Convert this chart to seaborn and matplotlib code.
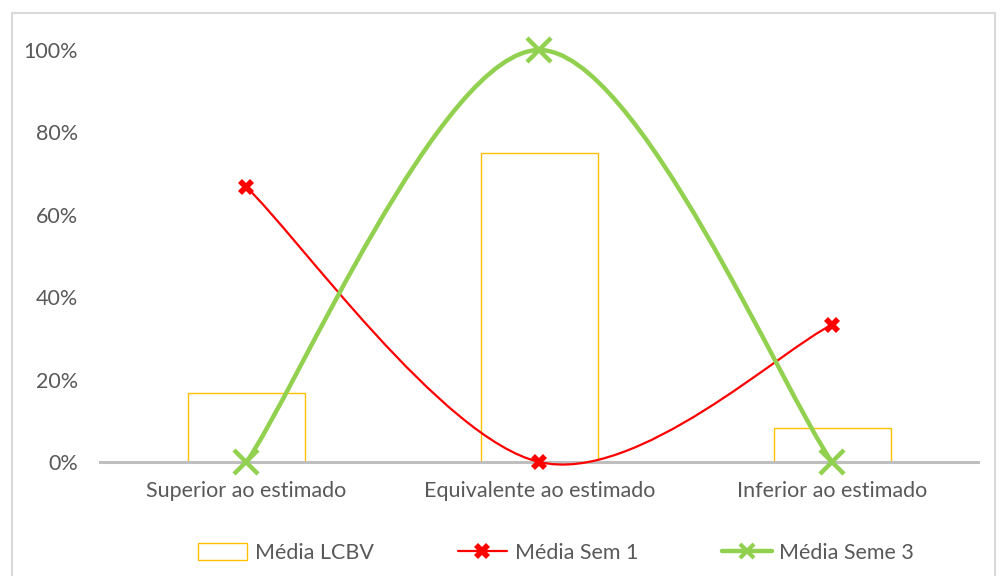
import matplotlib
matplotlib.use("Agg")
import matplotlib.pyplot as plt
import seaborn as sns
import pandas as pd
import numpy as np
from matplotlib.path import Path
from matplotlib.patches import PathPatch, Rectangle, Patch
from matplotlib.lines import Line2D
from matplotlib.ticker import PercentFormatter

categories = ["Superior ao estimado", "Equivalente ao estimado", "Inferior ao estimado"]
media_lcbv = [0.167, 0.75, 0.083]
media_sem1 = [0.667, 0.0, 0.333]
media_seme3 = [0.0, 1.0, 0.0]
yticks = [0, 0.2, 0.4, 0.6, 0.8, 1.0]

sns.set_theme(style="white")
plt.rcParams["font.family"] = ["Lato", "DejaVu Sans"]
TXT = "#595959"
FS = 15.5

fig = plt.figure(figsize=(10.07, 5.76), dpi=100)
ax = fig.add_axes([100 / 1007, 1 - 462 / 576, 878.5 / 1007, 412 / 576])

df = pd.DataFrame({"cat": categories, "val": media_lcbv})
sns.barplot(data=df, x="cat", y="val", ax=ax, fill=False, width=0.4,
            edgecolor="#FFC000", linewidth=1.0, errorbar=None)
for p in ax.patches:
    p.set_edgecolor("#FFC000")
    p.set_linewidth(1.0)


def smooth_path(ys):
    xs = np.arange(len(ys), dtype=float)
    pts = np.column_stack([xs, np.asarray(ys, dtype=float)])
    n = len(pts)
    tang = []
    for i in range(n):
        a = pts[max(i - 1, 0)]
        b = pts[min(i + 1, n - 1)]
        tang.append((b - a) / 6.0)
    verts = [pts[0]]
    codes = [Path.MOVETO]
    for i in range(n - 1):
        verts += [pts[i] + tang[i], pts[i + 1] - tang[i + 1], pts[i + 1]]
        codes += [Path.CURVE4] * 3
    return Path(verts, codes)


ax.add_patch(PathPatch(smooth_path(media_sem1), facecolor="none",
                       edgecolor="#FF0000", linewidth=1.6, zorder=4, clip_on=False))
ax.add_patch(PathPatch(smooth_path(media_seme3), facecolor="none",
                       edgecolor="#92D050", linewidth=3.2, zorder=5, clip_on=False,
                       capstyle="round"))

xpos = np.arange(len(categories))
ax.plot(xpos, media_sem1, linestyle="none", marker="X", markersize=11,
        color="#FF0000", markeredgewidth=0, zorder=6, clip_on=False)
ax.plot(xpos, media_seme3, linestyle="none", marker="x", markersize=17,
        color="#92D050", markeredgewidth=3.2, zorder=7, clip_on=False)

ax.set_xlim(-0.5, 2.5)
ax.set_ylim(0, 1.0)
ax.set_yticks(yticks)
ax.yaxis.set_major_formatter(PercentFormatter(1.0, decimals=0))
ax.set_xlabel("")
ax.set_ylabel("")
ax.tick_params(axis="both", length=0, labelsize=FS, colors=TXT)
ax.tick_params(axis="y", pad=16)
ax.tick_params(axis="x", pad=14)
for s in ["top", "right", "left"]:
    ax.spines[s].set_visible(False)
ax.spines["bottom"].set_color("#BFBFBF")
ax.spines["bottom"].set_linewidth(2.2)
ax.spines["bottom"].set_zorder(3)
ax.grid(False)

handles = [
    Patch(facecolor="none", edgecolor="#FFC000", linewidth=1.0),
    Line2D([0], [0], color="#FF0000", linewidth=1.6, marker="X", markersize=11,
           markeredgewidth=0),
    Line2D([0], [0], color="#92D050", linewidth=3.2, marker="x", markersize=10,
           markeredgewidth=3),
]
fig.legend(handles, ["Média LCBV", "Média Sem 1", "Média Seme 3"],
           loc="center", bbox_to_anchor=(0.552, 1 - 553 / 576), ncol=3,
           frameon=False, fontsize=FS, labelcolor=TXT, columnspacing=3.9,
           handlelength=2.3, handleheight=0.8, handletextpad=0.35)

fig.patches.append(Rectangle((12 / 1007, -0.02), 983 / 1007, 1 - 13 / 576 + 0.02,
                             transform=fig.transFigure, fill=False,
                             edgecolor="#D9D9D9", linewidth=1.5))

fig.savefig("out.png", dpi=100, facecolor="white")
